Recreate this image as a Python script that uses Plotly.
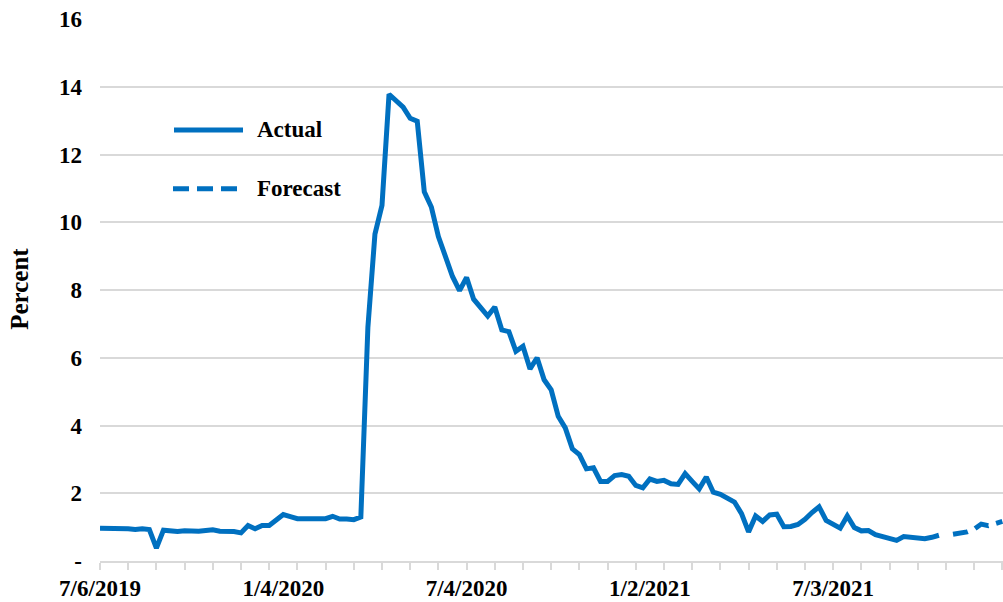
import pandas as pd
import plotly.graph_objects as go

# Weekly series, first week ending 7/6/2019
start_date = "2019-07-06"
forecast_start_date = "2021-10-30"

actual = [
    0.97, 0.97, 0.97, 0.96, 0.95, 0.93, 0.95, 0.93, 0.38, 0.91,
    0.89, 0.87, 0.89, 0.88, 0.88, 0.90, 0.92, 0.88, 0.89, 0.87,
    0.83, 1.05, 0.95, 1.05, 1.05, 1.22, 1.37, 1.31, 1.25, 1.25,
    1.26, 1.25, 1.25, 1.32, 1.24, 1.24, 1.22, 1.30, 6.90, 9.65,
    10.50, 13.78, 13.58, 13.40, 13.07, 12.98, 10.90, 10.45, 9.58, 9.04,
    8.40, 7.98, 8.37, 7.73, 7.48, 7.23, 7.50, 6.82, 6.77, 6.19,
    6.34, 5.67, 6.00, 5.35, 5.05, 4.27, 3.93, 3.31, 3.14, 2.72,
    2.75, 2.35, 2.35, 2.52, 2.55, 2.50, 2.23, 2.16, 2.42, 2.35,
    2.38, 2.28, 2.26, 2.58, 2.35, 2.13, 2.48, 2.03, 1.97, 1.87,
    1.74, 1.40, 0.86, 1.33, 1.17, 1.36, 1.38, 1.01, 1.02, 1.08,
    1.23, 1.43, 1.60, 1.20, 1.08, 0.97, 1.33, 0.99, 0.89, 0.90,
    0.78, 0.72, 0.68, 0.61, 0.72, 0.71, 0.69, 0.66, 0.70, 0.76,
]
forecast = [0.79, 0.82, 0.86, 0.94, 1.09, 1.04, 1.10, 1.17]

x_tick_dates = ["2019-07-06", "2020-01-04", "2020-07-04", "2021-01-02", "2021-07-03"]
x_tick_labels = ["7/6/2019", "1/4/2020", "7/4/2020", "1/2/2021", "7/3/2021"]
y_tick_values = [0, 2, 4, 6, 8, 10, 12, 14, 16]
y_tick_labels = ["-", "2", "4", "6", "8", "10", "12", "14", "16"]

BLUE = "#0070C0"
GRID = "#D9D9D9"
FONT = "Liberation Serif"

actual_dates = pd.date_range(start_date, periods=len(actual), freq="7D")
forecast_dates = pd.date_range(forecast_start_date, periods=len(forecast), freq="7D")

x_start = pd.Timestamp(start_date)
x_end = x_start + pd.Timedelta(days=7 * 128.09)
minor_ticks = pd.date_range(x_start, x_end, freq="28D")

W, H = 1003, 602
L, R, T, B = 100, 0, 19, 40.5
PW, PH = W - L - R, H - T - B


def px(x):
    return (x - L) / PW


def py(y):
    return (H - B - y) / PH


fig = go.Figure()
fig.add_trace(go.Scatter(
    x=actual_dates, y=actual, mode="lines", name="Actual",
    line=dict(color=BLUE, width=5), showlegend=False,
))
fig.add_trace(go.Scatter(
    x=forecast_dates, y=forecast, mode="lines", name="Forecast",
    line=dict(color=BLUE, width=5, dash="15px,8px"), showlegend=False,
))

# Hand-drawn legend inside the plot area
fig.add_shape(type="line", xref="paper", yref="paper",
              x0=px(174), x1=px(243), y0=py(130), y1=py(130),
              line=dict(color=BLUE, width=5))
fig.add_shape(type="line", xref="paper", yref="paper",
              x0=px(173), x1=px(238), y0=py(189), y1=py(189),
              line=dict(color=BLUE, width=5, dash="16px,8px"))
for label, yy in [("Actual", 130), ("Forecast", 189)]:
    fig.add_annotation(text=label, xref="paper", yref="paper",
                       x=px(255), y=py(yy), xanchor="left", yanchor="middle",
                       showarrow=False,
                       font=dict(family=FONT, size=23, color="black", weight="bold"))

fig.add_annotation(text="Percent", xref="paper", yref="paper",
                   x=px(20), y=py(289), xanchor="center", yanchor="middle",
                   textangle=-90, showarrow=False,
                   font=dict(family=FONT, size=25, color="black", weight="bold"))

fig.update_layout(
    width=W, height=H,
    margin=dict(l=L, r=R, t=T, b=B, pad=0),
    plot_bgcolor="white", paper_bgcolor="white",
    font=dict(family=FONT, color="black"),
)
fig.update_xaxes(
    type="date", range=[x_start, x_end],
    tickmode="array", tickvals=x_tick_dates, ticktext=x_tick_labels,
    ticks="", showgrid=False, zeroline=False,
    showline=True, linecolor=GRID, linewidth=1.5,
    tickfont=dict(family=FONT, size=23, color="black", weight="bold"),
    ticklabelstandoff=6,
    minor=dict(tickmode="array", tickvals=minor_ticks, ticks="outside",
               ticklen=7, tickcolor=GRID, tickwidth=1.5, showgrid=False),
)
fig.update_yaxes(
    range=[0, 16.001], tickmode="array",
    tickvals=y_tick_values, ticktext=y_tick_labels,
    ticks="", showgrid=True, gridcolor=GRID, gridwidth=1.5,
    zeroline=False, showline=False,
    tickfont=dict(family=FONT, size=23, color="black", weight="bold"),
    ticklabelstandoff=17,
)

fig.write_html("out.html")
